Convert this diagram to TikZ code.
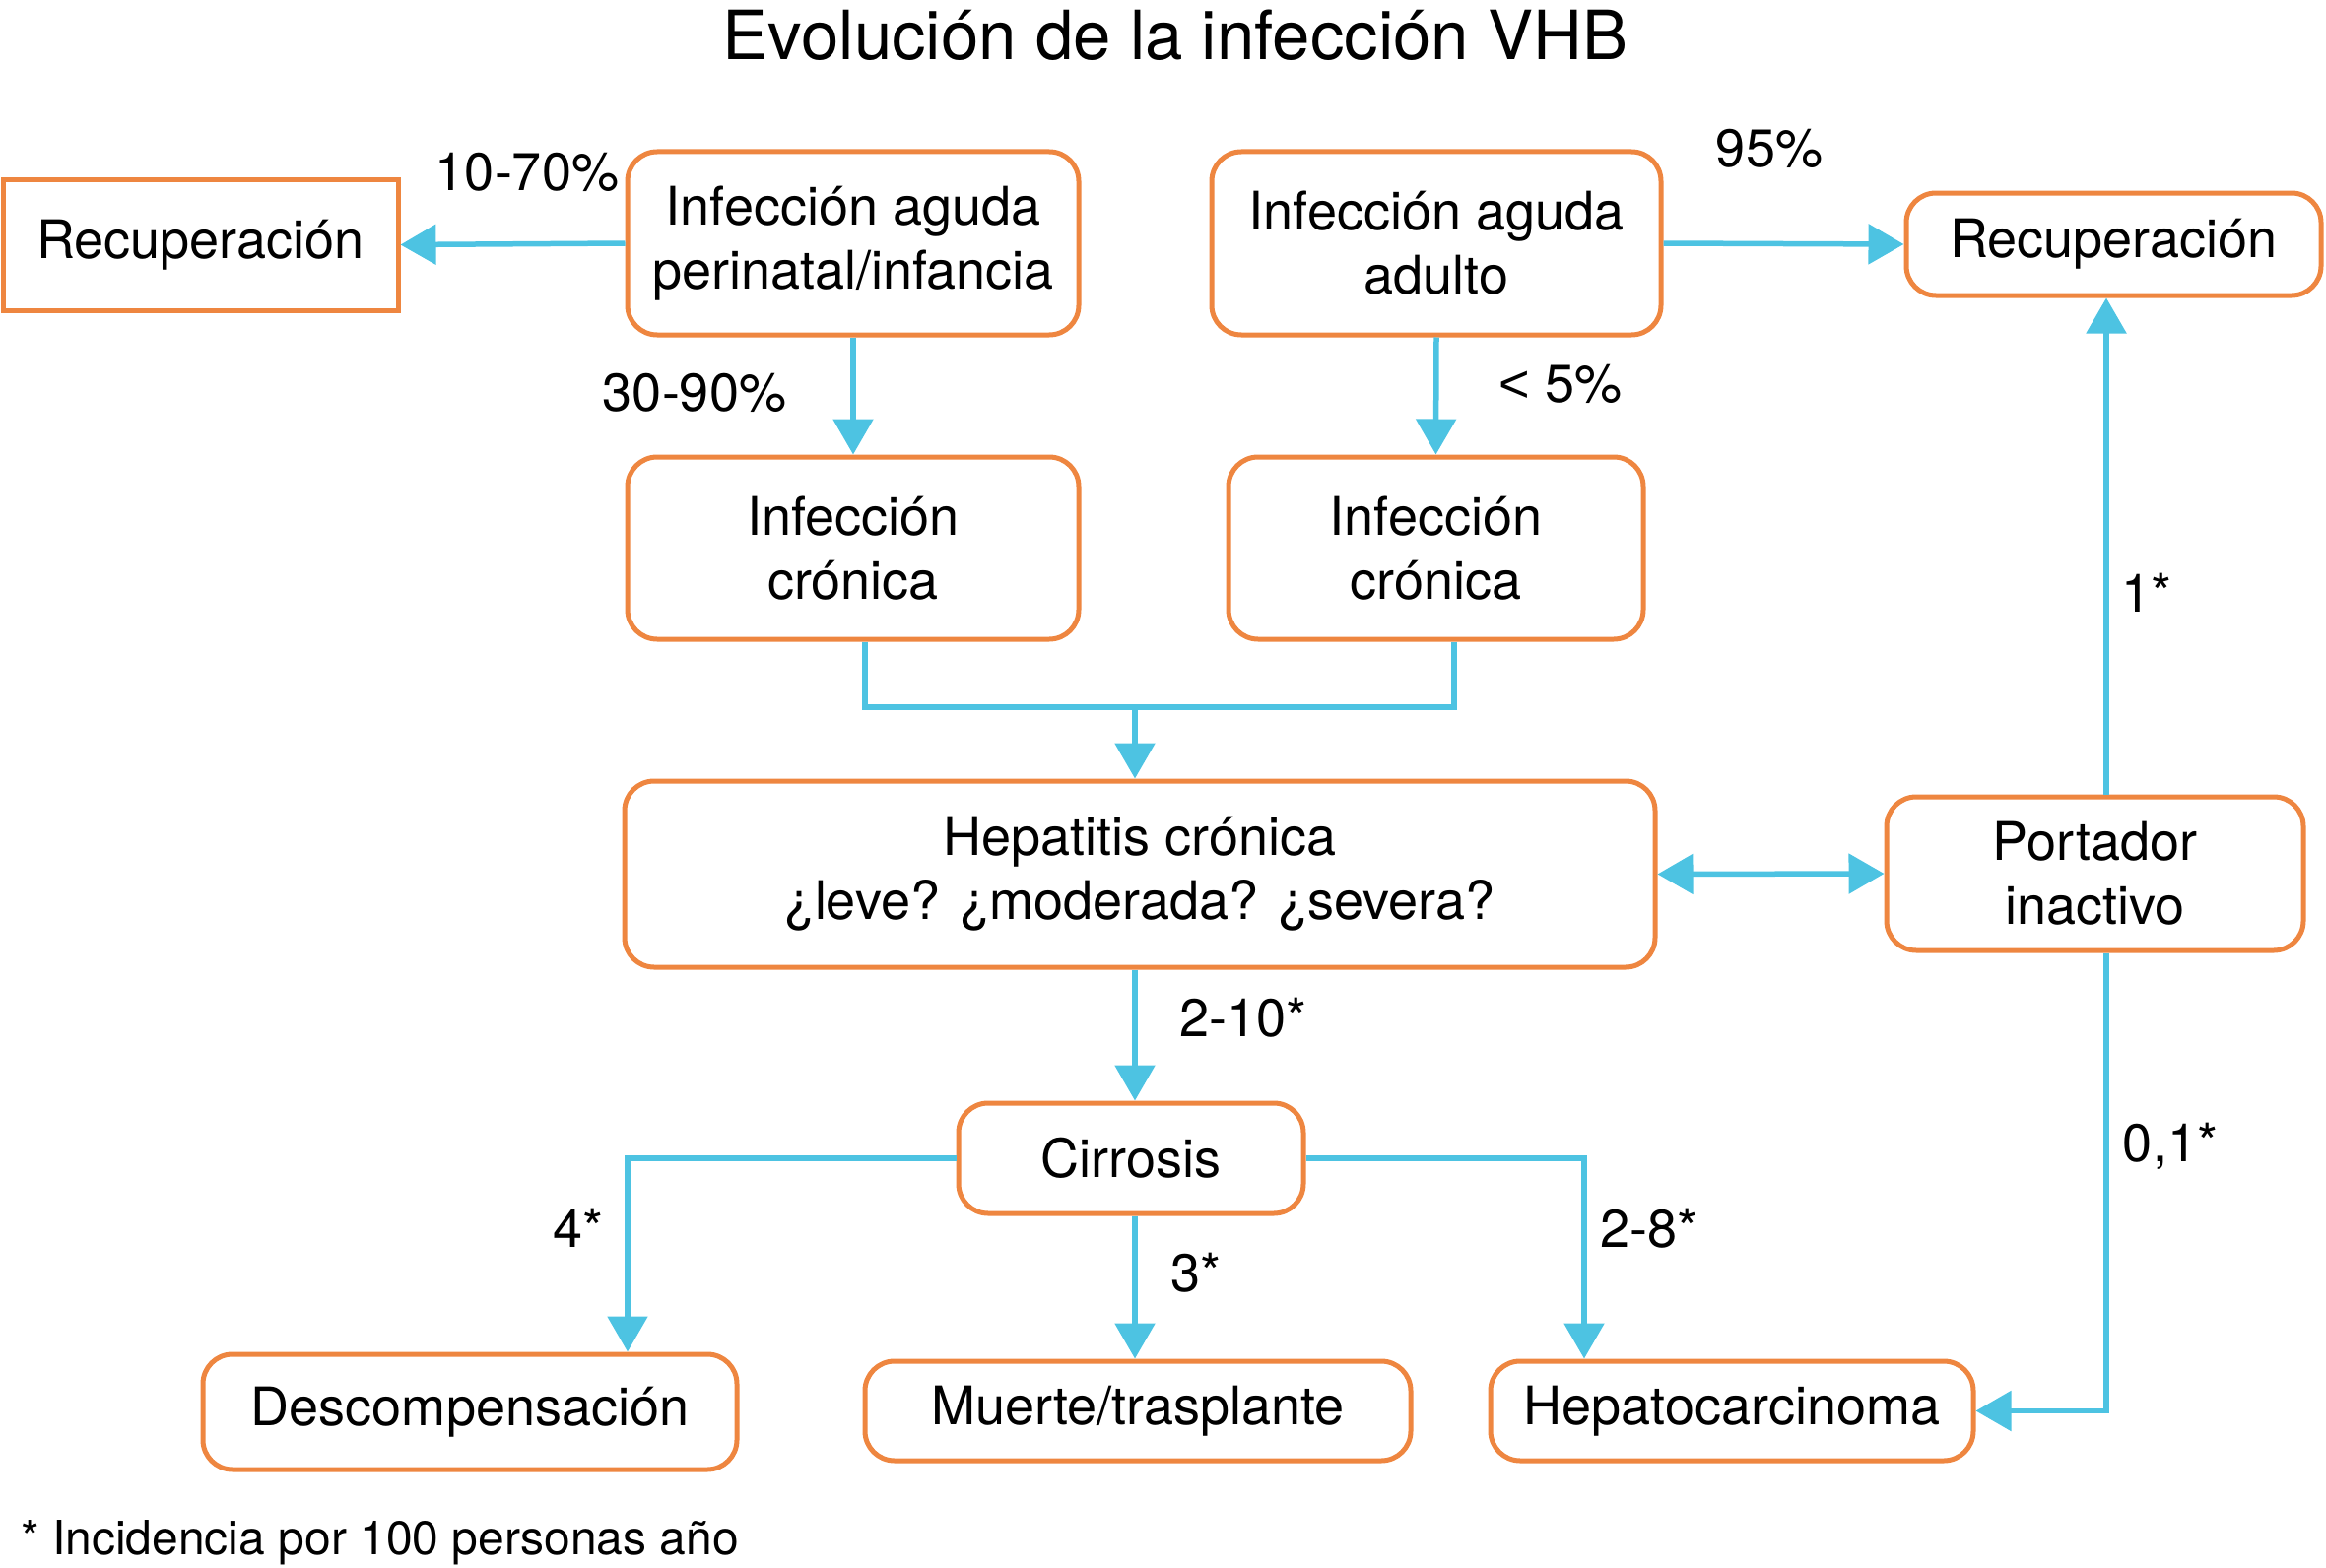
\documentclass[tikz,border=0pt]{standalone}
\usepackage{fontspec}
\setmainfont{TeX Gyre Heros}
\newfontfamily\lsans{Liberation Sans}
\usetikzlibrary{arrows.meta}
\definecolor{bxo}{HTML}{EE8640}
\definecolor{lnb}{HTML}{4DC3E2}
\newcommand\fsbx{\fontsize{54pt}{65pt}\selectfont}
\newcommand\fstitle{\fontsize{69pt}{80pt}\selectfont}
\newcommand\fsfoot{\fontsize{48pt}{58pt}\selectfont}
\begin{document}
\begin{tikzpicture}[x=1pt,y=-1pt,
 box/.style={draw=bxo,line width=5pt,align=center,inner sep=0pt,font=\fsbx},
 rbox/.style={box,rounded corners=30pt},
 lbl/.style={font=\fsbx,inner sep=0pt},
 ln/.style={draw=lnb,line width=5.5pt},
 arr/.style={ln,-{Triangle[length=36pt,width=40pt]}},
 darr/.style={ln,{Triangle[length=36pt,width=40pt]}-{Triangle[length=36pt,width=40pt]}}]
\useasboundingbox (0,0) rectangle (2361,1592);

\node[font=\fstitle,inner sep=0pt] (title) at (1193,36) {Evolución de la infección VHB};

\node[box,minimum width=401pt,minimum height=133pt] (recL) at (203.5,248.5) {Recuperación};
\node[rbox,minimum width=458pt,minimum height=186pt] (pi) at (866,247) {Infección aguda\\perinatal/infancia};
\node[rbox,minimum width=456pt,minimum height=186pt] (ad) at (1458,247) {Infección aguda\\adulto};
\node[rbox,minimum width=421pt,minimum height=104pt] (recR) at (2145.5,248) {Recuperación};
\node[rbox,minimum width=458pt,minimum height=185pt] (cL) at (866,556.5) {Infección\\crónica};
\node[rbox,minimum width=421pt,minimum height=185pt] (cR) at (1457.5,556.5) {Infección\\crónica};
\node[rbox,minimum width=1046pt,minimum height=189pt] (hep) at (1157,887.5) {Hepatitis crónica\\¿leve? ¿moderada? ¿severa?};
\node[rbox,minimum width=423pt,minimum height=156pt] (port) at (2126.5,887) {Portador\\inactivo};
\node[rbox,minimum width=350pt,minimum height=112pt] (cir) at (1148,1176) {Cirrosis};
\node[rbox,minimum width=542pt,minimum height=117pt] (desc) at (477,1433.5) {Descompensación};
\node[rbox,minimum width=554pt,minimum height=101pt] (mue) at (1155,1432.5) {Muerte/trasplante};
\node[rbox,minimum width=490pt,minimum height=101pt] (hcc) at (1758,1432.5) {Hepatocarcinoma};

\coordinate (mL) at (878,718);
\coordinate (mR) at (1476,718);
\coordinate (mC) at (1152,718);
\coordinate (pv) at (2138,0);
\coordinate (dl) at (637,0);
\coordinate (dr) at (1608,0);

\draw[arr] (pi.west) -- (recL.east);
\draw[arr] (pi.south) -- (cL.north);
\draw[arr] (ad.south) -- (cR.north);
\draw[arr] (ad.east) -- (recR.west);
\draw[ln] (cL.south -| mL) -- (mL) -- (mR) -- (cR.south -| mR);
\draw[arr] (mC) -- (hep.north -| mC);
\draw[darr] (hep.east) -- (port.west);
\draw[arr] (port.north -| pv) -- (recR.south -| pv);
\draw[arr] (port.south -| pv) |- (hcc.east);
\draw[arr] (hep.south -| mC) -- (cir.north -| mC);
\draw[arr] (cir.south -| mC) -- (mue.north -| mC);
\draw[arr] (cir.west) -| (desc.north -| dl);
\draw[arr] (cir.east) -| (hcc.north -| dr);

\node[lbl] (l1) at (535,175) {10-70\%};
\node[lbl] (l2) at (705,399) {30-90\%};
\node[lbl] (l3) at (1584,390) {{\lsans <} 5\%};
\node[lbl] (l4) at (1796,151) {95\%};
\node[lbl] (l5) at (2179,602) {1*};
\node[lbl] (l6) at (2203,1164) {0,1*};
\node[lbl] (l7) at (1262,1033) {2-10*};
\node[lbl] (l8) at (587,1247) {4*};
\node[lbl] (l9) at (1214,1292) {3*};
\node[lbl] (l10) at (1674,1247) {2-8*};

\node[font=\fsfoot,inner sep=0pt,anchor=west] (foot) at (21,1566) {* Incidencia por 100 personas año};
\end{tikzpicture}
\end{document}
